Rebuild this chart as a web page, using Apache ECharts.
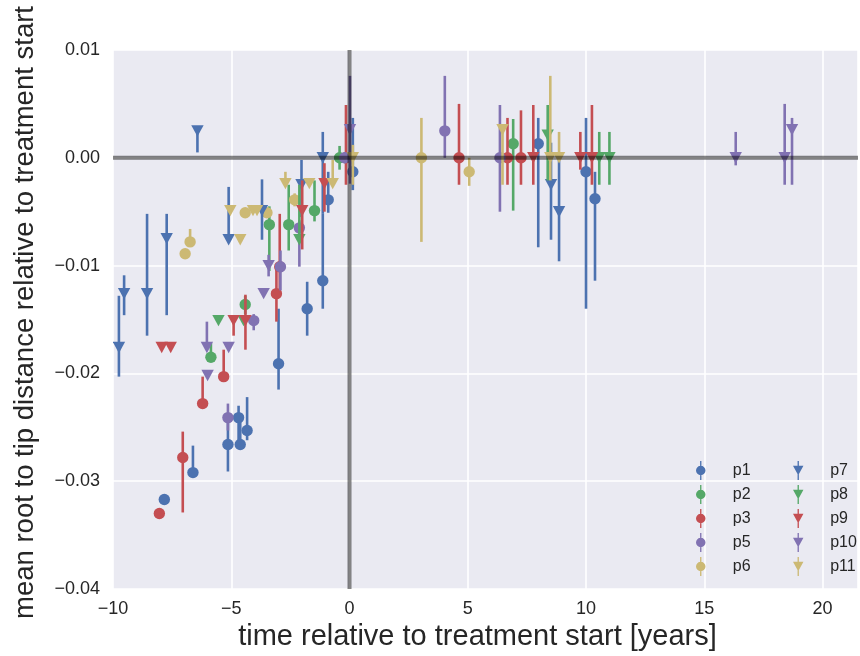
<!DOCTYPE html>
<html>
<head>
    <meta charset="UTF-8">
    <title>root to tip distance</title>
    <script src="https://cdn.jsdelivr.net/npm/echarts@6/dist/echarts.min.js"></script>
    <style>
        html, body { margin: 0; padding: 0; background: #fff; }
        #chart { width: 860px; height: 656px; }
    </style>
</head>
<body>
<div id="chart"></div>
<script>
    // each point: [time, value, lower end of bar, upper end of bar]
    var p1 = [[-7.83, -0.0317, -0.0317, -0.0317], [-6.62, -0.0292, -0.0292, -0.0267], [-5.14, -0.0266, -0.0291, -0.0243],
        [-4.69, -0.0241, -0.0266, -0.0230], [-4.62, -0.0266, -0.0266, -0.0243], [-4.33, -0.0253, -0.0262, -0.0222],
        [-3.0, -0.0191, -0.0215, -0.0140], [-1.79, -0.0140, -0.0165, -0.0115], [-1.13, -0.0114, -0.0140, -0.0052],
        [-0.90, -0.0039, -0.0051, -0.0013], [0.14, -0.0013, -0.0030, 0.0037], [7.98, 0.0013, -0.0083, 0.0037],
        [10.0, -0.0013, -0.0140, 0.0037], [10.38, -0.0038, -0.0114, -0.0013]];
    var p2 = [[-5.86, -0.0185, -0.0185, -0.0172], [-4.41, -0.0136, -0.0145, -0.0128], [-3.39, -0.0062, -0.0105, -0.0045],
        [-2.57, -0.0062, -0.0086, -0.0025], [-1.48, -0.0049, -0.0059, -0.0021], [-0.42, 0.0, -0.0011, 0.0011],
        [6.92, 0.0013, -0.0049, 0.0036]];
    var p3 = [[-8.04, -0.0330, -0.0330, -0.0330], [-7.05, -0.0278, -0.0329, -0.0254], [-6.21, -0.0228, -0.0228, -0.0203],
        [-5.32, -0.0203, -0.0203, -0.0178], [-3.09, -0.0126, -0.0152, -0.0101], [-2.95, -0.0101, -0.0125, -0.0052],
        [-0.15, 0.0, -0.0025, 0.0049], [4.63, 0.0, -0.0025, 0.0050], [6.68, 0.0, -0.0025, 0.0037],
        [7.25, 0.0, -0.0025, 0.0044]];
    var p5 = [[-5.14, -0.0241, -0.0253, -0.0228], [-4.05, -0.0151, -0.0160, -0.0145], [-2.92, -0.0101, -0.0123, -0.0086],
        [-2.12, -0.0065, -0.0101, -0.0058], [-0.2, 0.0, -0.0005, 0.0005], [4.03, 0.0025, 0.0, 0.0076],
        [6.36, 0.0, -0.0050, 0.0049]];
    var p6 = [[-6.95, -0.0089, -0.0092, -0.0086], [-6.74, -0.0078, -0.0082, -0.0066], [-4.41, -0.0051, -0.0053, -0.0049],
        [-3.49, -0.0051, -0.0053, -0.0049], [-2.32, -0.0039, -0.0045, -0.0033], [3.04, 0.0, -0.0078, 0.0037],
        [5.06, -0.0013, -0.0026, 0.0]];
    var p7 = [[-9.75, -0.0176, -0.0203, -0.0128], [-9.53, -0.0126, -0.0146, -0.0109], [-8.56, -0.0126, -0.0165, -0.0052],
        [-7.73, -0.0075, -0.0146, -0.0052], [-6.43, 0.0025, 0.0005, 0.0025], [-5.11, -0.0076, -0.0078, -0.0027],
        [-3.70, -0.0049, -0.0076, -0.0020], [-2.03, -0.0025, -0.0055, -0.0002], [-1.13, 0.0, -0.0052, 0.0024],
        [8.52, -0.0025, -0.0076, 0.0014], [8.86, -0.0050, -0.0096, -0.0002]];
    var p8 = [[-5.54, -0.0151, -0.0151, -0.0151], [-4.48, -0.0151, -0.0151, -0.0151], [-2.12, -0.0076, -0.0076, -0.0025],
        [8.38, 0.0021, -0.0021, 0.0049], [10.56, 0.0, -0.0025, 0.0024], [10.99, 0.0, -0.0025, 0.0024]];
    var p9 = [[-7.94, -0.0176, -0.0176, -0.0176], [-7.56, -0.0176, -0.0176, -0.0176], [-4.90, -0.0151, -0.0165, -0.0151],
        [-4.40, -0.0151, -0.0178, -0.0127], [-2.00, -0.0049, -0.0085, -0.0021], [-1.06, -0.0024, -0.0050, -0.0005],
        [7.77, 0.0, -0.0025, 0.0049], [9.76, 0.0, -0.0011, 0.0024], [10.25, 0.0, -0.0025, 0.0049]];
    var p10 = [[-6.03, -0.0176, -0.0176, -0.0152], [-6.00, -0.0202, -0.0202, -0.0202], [-5.11, -0.0176, -0.0176, -0.0176],
        [-3.63, -0.0126, -0.0126, -0.0126], [-3.42, -0.0100, -0.0110, -0.0090], [0.02, 0.0026, -0.0024, 0.0076],
        [16.33, 0.0, -0.0007, 0.0024], [18.40, 0.0, -0.0025, 0.0050], [18.71, 0.0026, -0.0025, 0.0037]];
    var p11 = [[-5.04, -0.0049, -0.0049, -0.0049], [-4.62, -0.0076, -0.0076, -0.0076], [-4.08, -0.0049, -0.0049, -0.0049],
        [-3.91, -0.0049, -0.0049, -0.0049], [-2.71, -0.0024, -0.0024, -0.0013], [-1.70, -0.0024, -0.0024, -0.0024],
        [-0.71, -0.0024, -0.0024, -0.0002], [0.14, 0.0, -0.0025, 0.0012], [6.47, 0.0026, -0.0025, 0.0030],
        [8.49, 0.0, -0.0021, 0.0076], [8.86, 0.0, -0.0002, 0.0024]];

    var xTicks = [-10, -5, 0, 5, 10, 15, 20];
    var yTicks = [-0.04, -0.03, -0.02, -0.01, 0.00, 0.01];

    var groups = [
        { name: 'p1', data: p1, color: '#4C72B0', mark: 'o' },
        { name: 'p2', data: p2, color: '#55A868', mark: 'o' },
        { name: 'p3', data: p3, color: '#C44E52', mark: 'o' },
        { name: 'p5', data: p5, color: '#8172B2', mark: 'o' },
        { name: 'p6', data: p6, color: '#CCB974', mark: 'o' },
        { name: 'p7', data: p7, color: '#4C72B0', mark: 'v' },
        { name: 'p8', data: p8, color: '#55A868', mark: 'v' },
        { name: 'p9', data: p9, color: '#C44E52', mark: 'v' },
        { name: 'p10', data: p10, color: '#8172B2', mark: 'v' },
        { name: 'p11', data: p11, color: '#CCB974', mark: 'v' }
    ];

    var iconO = 'path://M-0.7,-10 L0.7,-10 L0.7,10 L-0.7,10 Z M0,-5 A5,5 0 1 1 0,5 A5,5 0 1 1 0,-5 Z';
    var iconV = 'path://M-5.5,-5 L5.5,-5 L0,5 Z M-0.7,-10 L0.7,-10 L0.7,10 L-0.7,10 Z';

    function minus(s) { return s.replace('-', '\u2212'); }

    function errRender(mark) {
        return function (params, api) {
            var x = api.value(0), y = api.value(1);
            var p = api.coord([x, y]);
            var a = api.coord([x, api.value(2)]);
            var b = api.coord([x, api.value(3)]);
            var c = api.visual('color');
            var kids = [{
                type: 'line',
                shape: { x1: p[0], y1: a[1], x2: p[0], y2: b[1] },
                style: { stroke: c, lineWidth: 2.6 }
            }];
            if (mark == 'o') {
                kids.push({ type: 'circle', shape: { cx: p[0], cy: p[1], r: 5.7 }, style: { fill: c } });
            } else {
                kids.push({
                    type: 'polygon',
                    shape: { points: [[p[0] - 6.2, p[1] - 5.7], [p[0] + 6.2, p[1] - 5.7], [p[0], p[1] + 5.7]] },
                    style: { fill: c }
                });
            }
            return { type: 'group', children: kids };
        };
    }

    var series = groups.map(function (g) {
        return {
            name: g.name,
            type: 'custom',
            data: g.data,
            encode: { x: 0, y: 1 },
            itemStyle: { color: g.color },
            renderItem: errRender(g.mark),
            clip: true
        };
    });

    // zero lines drawn over the points
    series.push({
        type: 'line', data: [[-10, 0], [21.5, 0]], symbol: 'none', silent: true, z: 5,
        lineStyle: { color: 'rgba(0,0,0,0.48)', width: 4 }
    });
    series.push({
        type: 'line', data: [[0, -0.04], [0, 0.01]], symbol: 'none', silent: true, z: 5,
        lineStyle: { color: 'rgba(0,0,0,0.48)', width: 4 }
    });

    function legendCol(names, left) {
        return {
            left: left, top: 461, orient: 'vertical', padding: 0,
            itemWidth: 54, itemHeight: 19, itemGap: 5,
            textStyle: { fontFamily: 'Liberation Sans', fontSize: 16, color: '#262626' },
            data: names.map(function (n) {
                var g = groups.filter(function (q) { return q.name == n; })[0];
                return { name: n, icon: g.mark == 'o' ? iconO : iconV };
            })
        };
    }

    var chart = echarts.init(document.getElementById('chart'), null, { renderer: 'canvas' });
    chart.setOption({
        animation: false,
        textStyle: { fontFamily: 'Liberation Sans' },
        grid: {
            left: 113, right: 2, top: 50, bottom: 67, show: true, backgroundColor: '#EAEAF2', borderWidth: 0,
            containLabel: false, outerBoundsMode: 'none'
        },
        legend: [legendCol(['p1', 'p2', 'p3', 'p5', 'p6'], 696), legendCol(['p7', 'p8', 'p9', 'p10', 'p11'], 793)],
        xAxis: {
            type: 'value', min: xTicks[0], max: 21.5, interval: 5,
            name: 'time relative to treatment start [years]',
            nameLocation: 'middle', nameGap: 30,
            nameTextStyle: { fontSize: 29, color: '#262626', fontFamily: 'Liberation Sans', padding: [0, 16, 0, 0] },
            axisLine: { show: false }, axisTick: { show: false },
            axisLabel: {
                fontSize: 18, color: '#262626', margin: 11, showMaxLabel: false,
                formatter: function (v) { return xTicks.indexOf(v) >= 0 ? minus(String(v)) : ''; }
            },
            splitLine: { lineStyle: { color: '#ffffff', width: 1.6 } }
        },
        yAxis: {
            type: 'value', min: yTicks[0], max: yTicks[yTicks.length - 1], interval: 0.01,
            name: 'mean root to tip distance relative to treatment start',
            nameLocation: 'middle', nameGap: 74,
            nameTextStyle: { fontSize: 27.5, color: '#262626', fontFamily: 'Liberation Sans', padding: [0, 0, 0, 14] },
            axisLine: { show: false }, axisTick: { show: false },
            axisLabel: {
                fontSize: 18, color: '#262626', margin: 13,
                formatter: function (v) { return minus(v.toFixed(2)); }
            },
            splitLine: { lineStyle: { color: '#ffffff', width: 1.6 } }
        },
        series: series
    });
</script>
</body>
</html>
